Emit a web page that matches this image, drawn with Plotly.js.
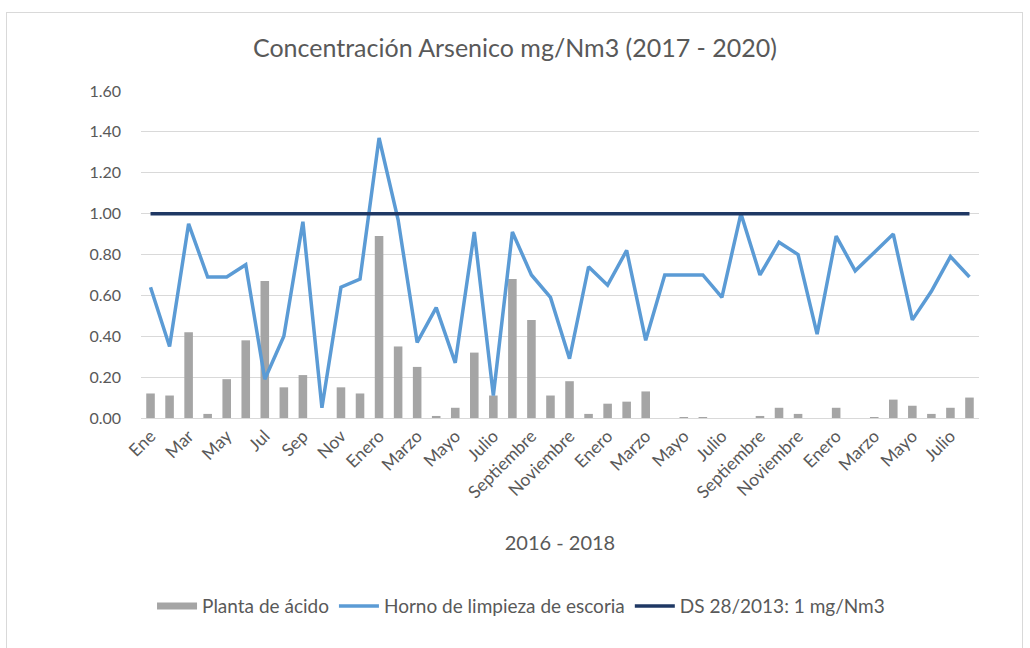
<!DOCTYPE html>
<html>
<head>
<meta charset="utf-8">
<script src="https://cdn.plot.ly/plotly-3.0.1.min.js"></script>
<style>
  body { margin: 0; padding: 0; background: #ffffff; }
  #frame { position: absolute; left: 6px; top: 12px; width: 1017px; height: 640px; border: 1px solid #d9d9d9; box-sizing: border-box; }
  #chart { position: absolute; left: 0; top: 0; width: 1030px; height: 648px; }
</style>
</head>
<body>
<div id="frame"></div>
<div id="chart"></div>
<script>
const categories = [
  "Ene","Feb","Mar","Abr","May","Jun","Jul","Ago","Sep","Oct","Nov","Dic",
  "Enero","Febrero","Marzo","Abril","Mayo","Junio","Julio","Agosto","Septiembre","Octubre","Noviembre","Diciembre",
  "Enero","Febrero","Marzo","Abril","Mayo","Junio","Julio","Agosto","Septiembre","Octubre","Noviembre","Diciembre",
  "Enero","Febrero","Marzo","Abril","Mayo","Junio","Julio","Agosto"
];
const plantaAcido = [
  0.12,0.11,0.42,0.02,0.19,0.38,0.67,0.15,0.21,0.00,0.15,0.12,
  0.89,0.35,0.25,0.01,0.05,0.32,0.11,0.68,0.48,0.11,0.18,0.02,
  0.07,0.08,0.13,0.00,0.005,0.005,0.00,0.00,0.01,0.05,0.02,0.00,
  0.05,0.00,0.005,0.09,0.06,0.02,0.05,0.10
];
const hornoLimpieza = [
  0.64,0.35,0.95,0.69,0.69,0.75,0.19,0.40,0.96,0.05,0.64,0.68,
  1.37,0.97,0.37,0.54,0.27,0.91,0.11,0.91,0.70,0.59,0.29,0.74,
  0.65,0.82,0.38,0.70,0.70,0.70,0.59,1.00,0.70,0.86,0.80,0.41,
  0.89,0.72,0.81,0.90,0.48,0.62,0.79,0.69
];
const limite = categories.map(() => 1);
const yTicks = [0, 0.2, 0.4, 0.6, 0.8, 1.0, 1.2, 1.4, 1.6];
const yTickText = ["0.00","0.20","0.40","0.60","0.80","1.00","1.20","1.40","1.60"];

const xIdx = categories.map((c, i) => i);
const tickVals = xIdx.filter(i => i % 2 === 0);
const tickText = tickVals.map(i => categories[i]);

const FONT = "Lato, Open Sans, sans-serif";
const GREY = "#595959";
const BARGREY = "#a5a5a5";

const traces = [
  // legend entry for the bars (wide grey swatch like the original)
  { type: "scatter", mode: "lines", name: "Planta de ácido", x: [null], y: [null],
    legendgroup: "planta", line: { color: BARGREY, width: 7 }, hoverinfo: "skip" },
  { type: "bar", name: "Planta de ácido", x: xIdx, y: plantaAcido, legendgroup: "planta",
    showlegend: false, marker: { color: BARGREY } },
  { type: "scatter", mode: "lines", name: "Horno de limpieza de escoria", x: xIdx, y: hornoLimpieza,
    line: { color: "#5b9bd5", width: 3.5 } },
  { type: "scatter", mode: "lines", name: "DS 28/2013: 1 mg/Nm3", x: xIdx, y: limite,
    line: { color: "#1f3864", width: 3.5 } }
];

const layout = {
  width: 1030, height: 648,
  paper_bgcolor: "rgba(0,0,0,0)", plot_bgcolor: "rgba(0,0,0,0)",
  margin: { l: 140.5, r: 50.5, t: 91, b: 230 },
  font: { family: FONT, color: GREY, size: 16 },
  title: { text: "Concentración Arsenico mg/Nm3 (2017 - 2020)", x: 0.5, xanchor: "center",
    y: 1 - 48/648, yanchor: "middle", font: { family: FONT, size: 25, color: GREY } },
  bargap: 0.55,
  showlegend: true,
  legend: { orientation: "h", x: 0.4535, xanchor: "center", y: -0.575, yanchor: "middle",
    font: { family: FONT, size: 19, color: GREY }, traceorder: "normal", itemwidth: 40 },
  xaxis: {
    range: [-0.5, 43.5], tickmode: "array", tickvals: tickVals, ticktext: tickText,
    tickangle: -45, showgrid: false, zeroline: false, showline: true, linecolor: "#d9d9d9",
    ticks: "", tickfont: { family: FONT, size: 17.5, color: GREY },
    title: { text: "2016 - 2018", font: { family: FONT, size: 20, color: GREY }, standoff: 34 }
  },
  yaxis: {
    range: [0, 1.6], tickmode: "array", tickvals: yTicks, ticktext: yTickText,
    showgrid: true, gridcolor: "#d9d9d9", zeroline: false, showline: false, ticks: "",
    ticklabelstandoff: 19, tickfont: { family: FONT, size: 16, color: GREY }
  }
};

Plotly.newPlot("chart", traces, layout, { displayModeBar: false, staticPlot: true });
</script>
</body>
</html>
